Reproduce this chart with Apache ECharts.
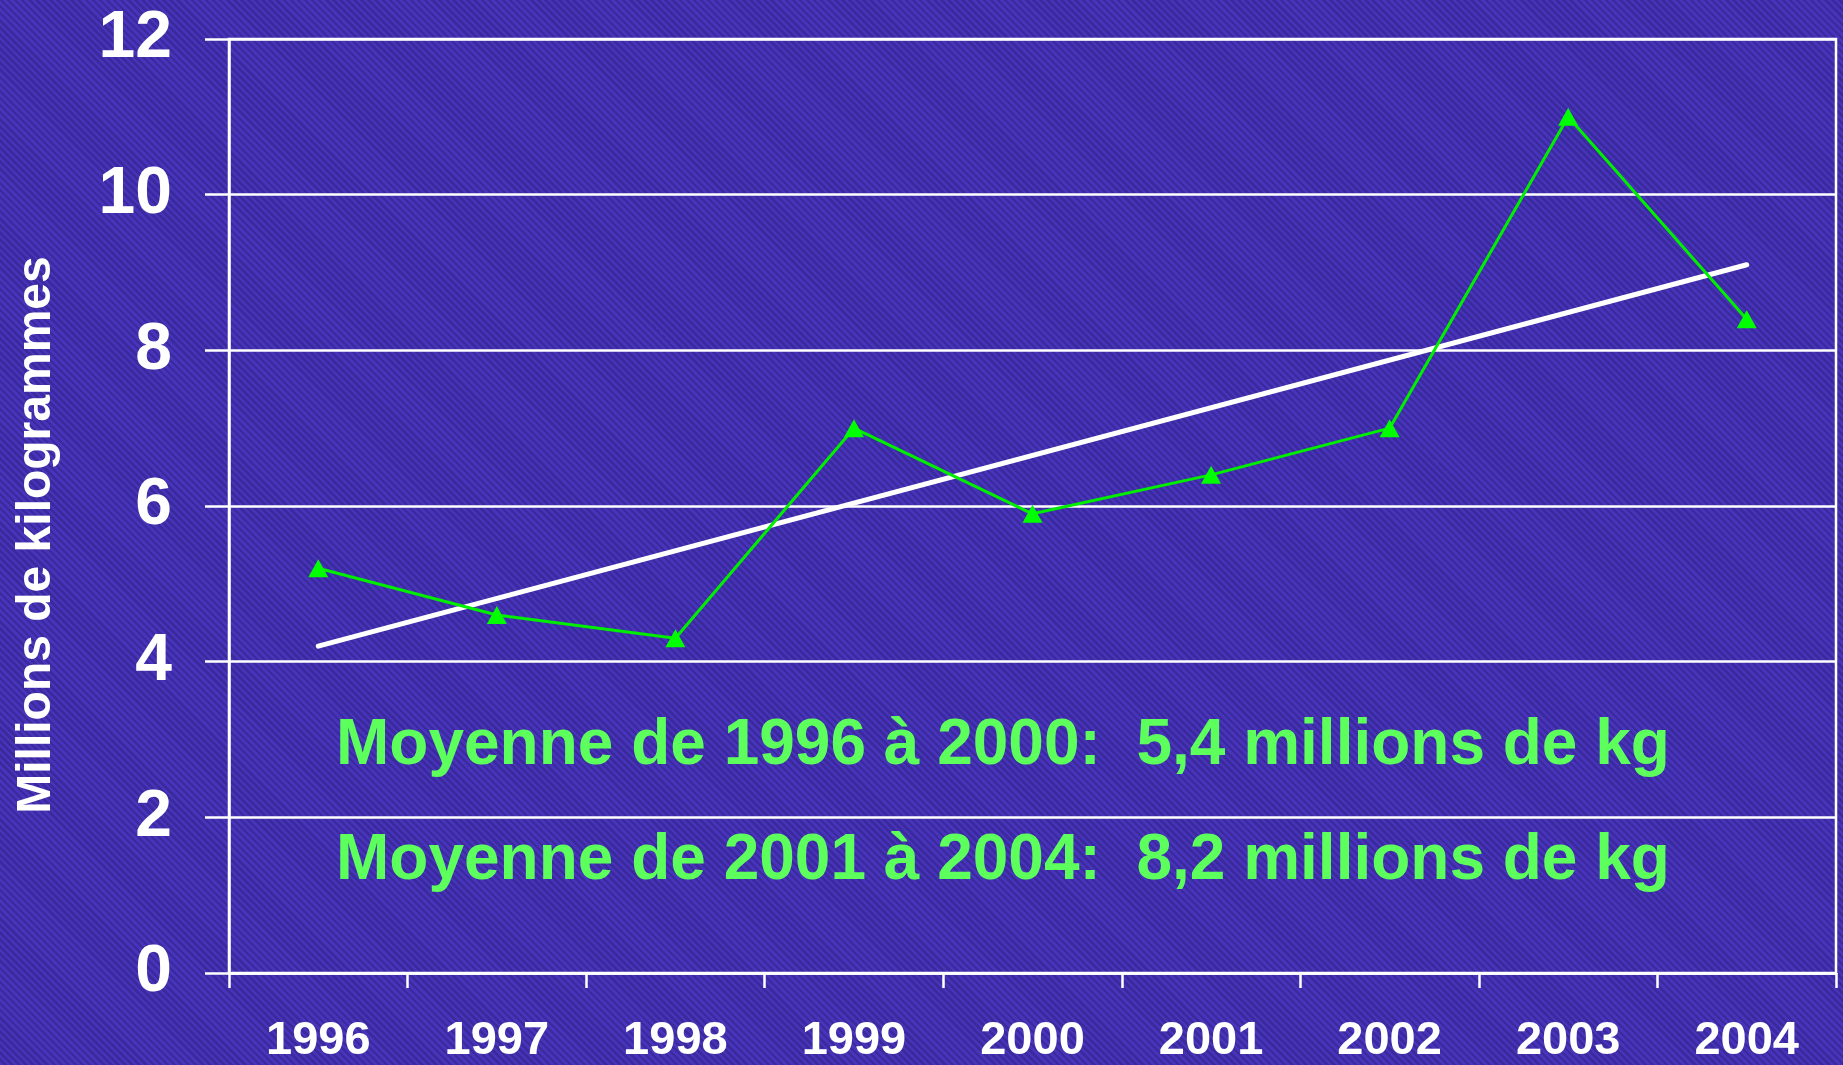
<!DOCTYPE html>
<html>
<head>
<meta charset="utf-8">
<script src="https://cdn.jsdelivr.net/npm/echarts@6/dist/echarts.min.js"></script>
<style>
  html, body { margin: 0; padding: 0; }
  body {
    background: repeating-linear-gradient(45deg, #4834ba 0px, #4834ba 2.5px, #3a2a9e 2.5px, #3a2a9e 5px);
  }
  #main { width: 1843px; height: 1065px; }
</style>
</head>
<body>
<div id="main"></div>
<script>
// données
var years = ['1996', '1997', '1998', '1999', '2000', '2001', '2002', '2003', '2004'];
var kilos = [5.2, 4.6, 4.3, 7.0, 5.9, 6.4, 7.0, 11.0, 8.4];
// tendance : extrémités de la droite blanche
var trendStart = ['1996', 4.2];
var trendEnd = ['2004', 9.1];
var yTicks = { min: 0, max: 12, interval: 2 };
var notes = [
  'Moyenne de 1996 à 2000:  5,4 millions de kg',
  'Moyenne de 2001 à 2004:  8,2 millions de kg'
];
var yTitle = 'Millions de kilogrammes';

var myChart = echarts.init(document.getElementById('main'));
var font = '"Liberation Sans", Arial, sans-serif';

var option = {
  backgroundColor: 'transparent',
  animation: false,
  grid: {
    left: 229,
    right: 7,
    top: 39,
    bottom: 87,
    show: true,
    borderColor: '#ffffff',
    borderWidth: 2.5
  },
  xAxis: {
    type: 'category',
    data: years,
    boundaryGap: true,
    axisLine: { lineStyle: { color: '#ffffff', width: 2.5 } },
    axisTick: { show: true, length: 15, lineStyle: { color: '#ffffff', width: 2.5 } },
    axisLabel: {
      color: '#ffffff',
      fontFamily: font,
      fontWeight: 'bold',
      fontSize: 47,
      margin: 45
    }
  },
  yAxis: {
    type: 'value',
    min: yTicks.min,
    max: yTicks.max,
    interval: yTicks.interval,
    axisLine: { show: true, lineStyle: { color: '#ffffff', width: 2.5 } },
    axisTick: { show: true, length: 24, lineStyle: { color: '#ffffff', width: 2.5 } },
    splitLine: { show: true, lineStyle: { color: '#ffffff', width: 2.5 } },
    axisLabel: {
      color: '#ffffff',
      fontFamily: font,
      fontWeight: 'bold',
      fontSize: 66,
      margin: 57
    }
  },
  graphic: [
    {
      type: 'text',
      x: 37,
      y: 535,
      rotation: Math.PI / 2,
      style: {
        text: yTitle,
        fill: '#ffffff',
        font: 'bold 48px ' + font,
        textAlign: 'center',
        textVerticalAlign: 'middle'
      }
    },
    {
      type: 'text',
      left: 336,
      top: 714,
      style: { text: notes[0], fill: '#5cff5c', font: 'bold 64px ' + font }
    },
    {
      type: 'text',
      left: 336,
      top: 829,
      style: { text: notes[1], fill: '#5cff5c', font: 'bold 64px ' + font }
    }
  ],
  series: [
    {
      name: 'tendance',
      type: 'line',
      data: [trendStart, trendEnd],
      symbol: 'none',
      lineStyle: { color: '#ffffff', width: 5, cap: 'round' },
      z: 2
    },
    {
      name: 'kg',
      type: 'line',
      data: kilos,
      symbol: 'triangle',
      symbolSize: [20, 18],
      itemStyle: { color: '#00ff00' },
      lineStyle: { color: '#00ee00', width: 3 },
      z: 3
    }
  ]
};

myChart.setOption(option);
</script>
</body>
</html>
